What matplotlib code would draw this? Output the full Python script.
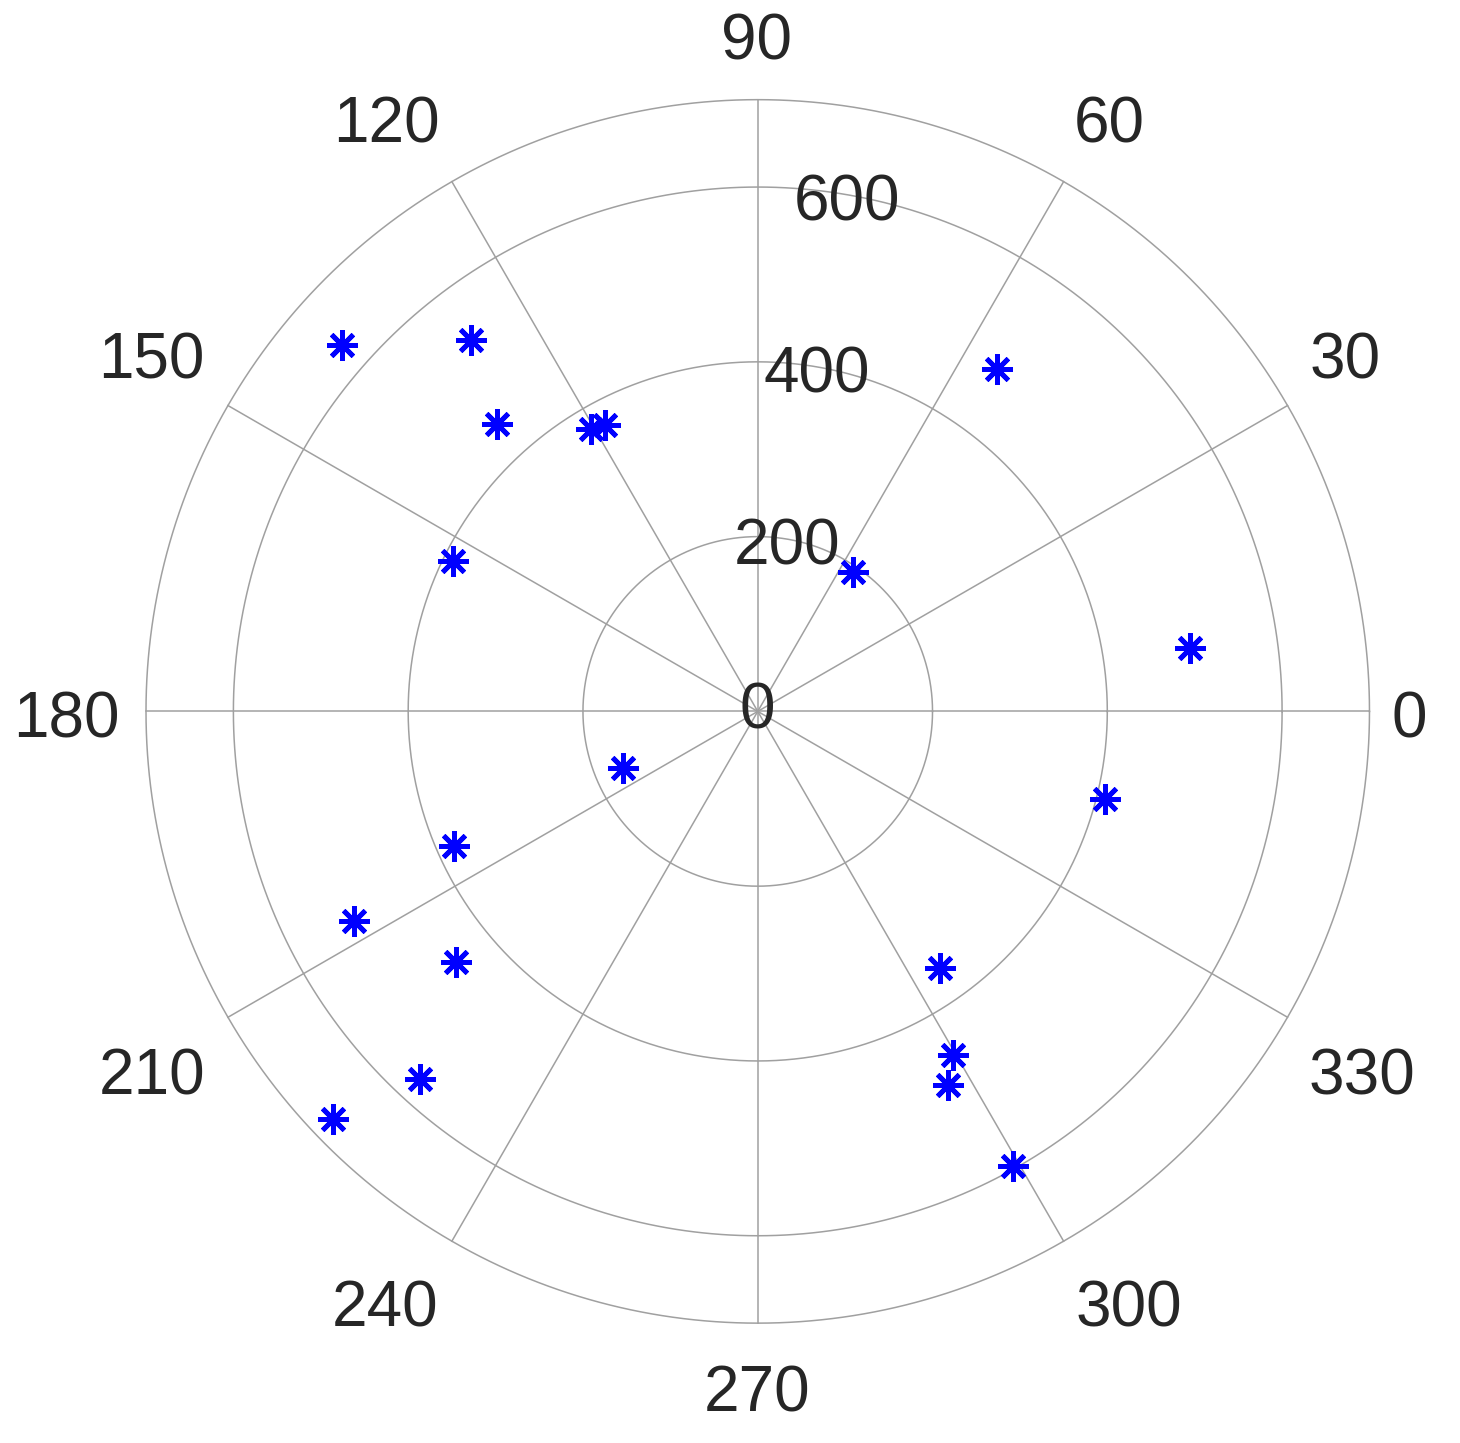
import numpy as np
import matplotlib.pyplot as plt

# angles (deg) and radii
theta_deg = [138.6, 127.6, 132.2, 120.5, 118.1, 153.7, 55.1, 55.8, 8.4, 345.8,
             202.9, 203.9, 207.4, 219.7, 227.4, 223.8, 305.3, 299.7, 296.9, 299.3]
radius = [634, 537, 444, 375, 372, 389, 478, 193, 500, 410,
          167, 380, 521, 449, 571, 674, 360, 452, 480, 596]

r_ticks = [0, 200, 400, 600]
r_max = 700
theta_ticks = list(range(0, 360, 30))

# pixel offsets of the angle labels from the centre (matlab style placement)
label_off = {0: (652, -9), 30: (587, 350), 60: (352, 586), 90: (-1, 669),
             120: (-371, 586), 150: (-606, 350), 180: (-691, -9),
             210: (-606, -366), 240: (-373, -598), 270: (-1, -683),
             300: (371, -598), 330: (604, -366)}

plt.rcParams['font.family'] = ['Liberation Sans', 'DejaVu Sans']
txt_color = '#262626'
grid_color = '#a0a0a0'
fs = 46

fig = plt.figure(figsize=(14.6, 14.43), dpi=100)
ax = fig.add_axes([0.1, 0.083, 0.838, 0.848], projection='polar')
ax.set_ylim(0, r_max)
ax.set_xticks([])
ax.set_yticks([])
ax.grid(False)
ax.spines['polar'].set_visible(False)

# grid: rings and spokes
tt = np.linspace(0, 2 * np.pi, 721)
for r in r_ticks[1:] + [r_max]:
    ax.plot(tt, np.full_like(tt, r), color=grid_color, lw=1.1, zorder=1, clip_on=False)
for t in theta_ticks:
    ax.plot([0, np.deg2rad(t)], [0, r_max], color=grid_color, lw=1.1, zorder=1, clip_on=False)

# angle labels
for t in theta_ticks:
    ax.annotate(str(t), xy=(0, 0), xytext=label_off[t], textcoords='offset pixels',
                ha='center', va='center', fontsize=fs, color=txt_color,
                annotation_clip=False)

# radius labels
for r in r_ticks:
    if r == 0:
        ax.text(0, 0, '0', ha='center', va='center', fontsize=fs, color=txt_color)
    else:
        ax.text(np.deg2rad(80), r - 10, str(r), ha='center', va='center',
                fontsize=fs, color=txt_color, zorder=2)

ax.plot(np.deg2rad(theta_deg), radius, linestyle='none', marker=(8, 2, 0),
        markersize=22, markeredgewidth=3.5, color='#0000ff', zorder=3)

fig.savefig('out.png')
